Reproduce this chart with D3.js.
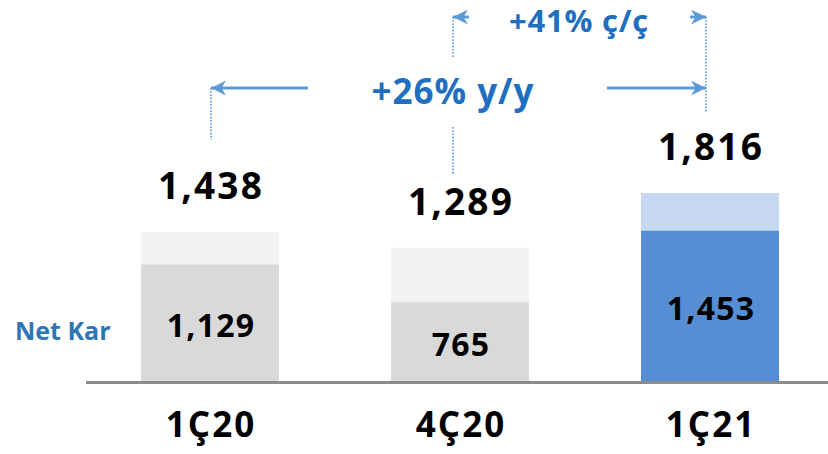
<!DOCTYPE html>
<html>
<head>
<meta charset="utf-8">
<script src="https://cdn.jsdelivr.net/npm/d3@7"></script>
<style>
  html, body { margin: 0; padding: 0; background: #ffffff; }
  svg { display: block; font-family: "Open Sans", "Noto Sans", sans-serif; }
</style>
</head>
<body>
<svg id="chart" width="828" height="454"></svg>
<script>
// Quarterly net profit (Net Kar) and total result, millions
const categories = ["1Ç20", "4Ç20", "1Ç21"];
const netKar = [1129, 765, 1453];
const total = [1438, 1289, 1816];
const growthYoY = "+26% y/y";
const growthQoQ = "+41% ç/ç";
const seriesLabel = "Net Kar";

const fmt = d3.format(",");

const svg = d3.select("#chart");
const W = 828, H = 454;
const baseY = 382;

const x = d3.scaleBand()
  .domain(categories)
  .range([85, 835])
  .paddingInner(0.448)
  .paddingOuter(0.224);

const y = d3.scaleLinear()
  .domain([0, 1816])
  .range([baseY, 193]);

// per-bar colours: previous quarters grey, current quarter blue
const fillTotal = ["#f2f2f2", "#f2f2f2", "#c6d9f1"];
const fillNet = ["#d9d9d9", "#d9d9d9", "#558ed5"];

const rows = categories.map((c, i) => ({ c, net: netKar[i], tot: total[i], i }));

// total (light) bars
svg.append("g").selectAll("rect").data(rows).join("rect")
  .attr("x", d => x(d.c))
  .attr("width", x.bandwidth())
  .attr("y", d => y(d.tot))
  .attr("height", d => y(0) - y(d.tot))
  .attr("fill", d => fillTotal[d.i]);

// net profit bars
svg.append("g").selectAll("rect").data(rows).join("rect")
  .attr("x", d => x(d.c))
  .attr("width", x.bandwidth())
  .attr("y", d => y(d.net))
  .attr("height", d => y(0) - y(d.net))
  .attr("fill", d => fillNet[d.i]);

// baseline
svg.append("line")
  .attr("x1", 86).attr("x2", W)
  .attr("y1", baseY + 0.5).attr("y2", baseY + 0.5)
  .attr("stroke", "#8c8c8c").attr("stroke-width", 3);

const cx = c => x(c) + x.bandwidth() / 2;

// total value labels
svg.append("g").selectAll("text").data(rows).join("text")
  .attr("x", d => cx(d.c) + 1)
  .attr("y", d => y(d.tot) - 33)
  .attr("text-anchor", "middle")
  .attr("font-size", 37).attr("font-weight", 700)
  .attr("letter-spacing", 2.2)
  .attr("fill", "#000")
  .text(d => fmt(d.tot));

// net value labels inside bars
svg.append("g").selectAll("text").data(rows).join("text")
  .attr("x", d => cx(d.c) + 1)
  .attr("y", d => (y(d.net) + y(0)) / 2 + 14)
  .attr("text-anchor", "middle")
  .attr("font-size", 32).attr("font-weight", 700)
  .attr("letter-spacing", 1.2)
  .attr("fill", "#000")
  .text(d => fmt(d.net));

// category axis
const axis = svg.append("g")
  .attr("transform", `translate(0,${baseY})`)
  .call(d3.axisBottom(x).tickSize(0).tickPadding(0));
axis.select(".domain").remove();
axis.selectAll("text")
  .attr("x", 1)
  .attr("y", 55)
  .attr("dy", 0)
  .attr("font-family", "\"Open Sans\", \"Noto Sans\", sans-serif")
  .attr("font-size", 35).attr("font-weight", 700)
  .attr("letter-spacing", 2)
  .attr("fill", "#000");

// series label
svg.append("text")
  .attr("x", 15).attr("y", 340)
  .attr("font-size", 25).attr("font-weight", 700)
  .attr("fill", "#2e75b6")
  .text(seriesLabel);

// growth annotations
const arrowColor = "#5b9bd5";
const defs = svg.append("defs");
defs.append("marker")
  .attr("id", "head")
  .attr("viewBox", "0 0 10 10")
  .attr("refX", 10).attr("refY", 5)
  .attr("markerWidth", 5).attr("markerHeight", 5)
  .attr("markerUnits", "strokeWidth")
  .attr("orient", "auto")
  .append("path")
  .attr("d", "M0,0 L10,5 L0,10 L3,5 Z")
  .attr("fill", arrowColor);

const ann = svg.append("g");
const xA = cx(categories[0]) + 1;
const xB = cx(categories[1]) - 7;
const xC = cx(categories[2]) - 4;

function dotted(xp, y1, y2) {
  ann.append("line")
    .attr("x1", xp).attr("x2", xp).attr("y1", y1).attr("y2", y2)
    .attr("stroke", arrowColor).attr("stroke-width", 1.6)
    .attr("stroke-dasharray", "1.6,1.6");
}
function arrow(x1, x2, yy) {
  ann.append("line")
    .attr("x1", x1).attr("x2", x2).attr("y1", yy).attr("y2", yy)
    .attr("stroke", arrowColor).attr("stroke-width", 3)
    .attr("marker-end", "url(#head)");
}

// year over year
dotted(xA, 88, 140);
arrow(308, xA, 88);
arrow(607, xC, 88);
dotted(xC, 17, 112);
dotted(xB, 127, 174);

// quarter over quarter
dotted(xB, 17, 57);
arrow(xB + 16, xB, 17);
arrow(xC - 16, xC, 17);

ann.append("text")
  .attr("x", 453).attr("y", 104)
  .attr("text-anchor", "middle")
  .attr("font-size", 35).attr("font-weight", 700)
  .attr("letter-spacing", 1)
  .attr("fill", "#1f6fc0")
  .text(growthYoY);

ann.append("text")
  .attr("x", 579).attr("y", 32)
  .attr("text-anchor", "middle")
  .attr("font-size", 31).attr("font-weight", 700)
  .attr("letter-spacing", 0.8)
  .attr("fill", "#1f6fc0")
  .text(growthQoQ);
</script>
</body>
</html>
